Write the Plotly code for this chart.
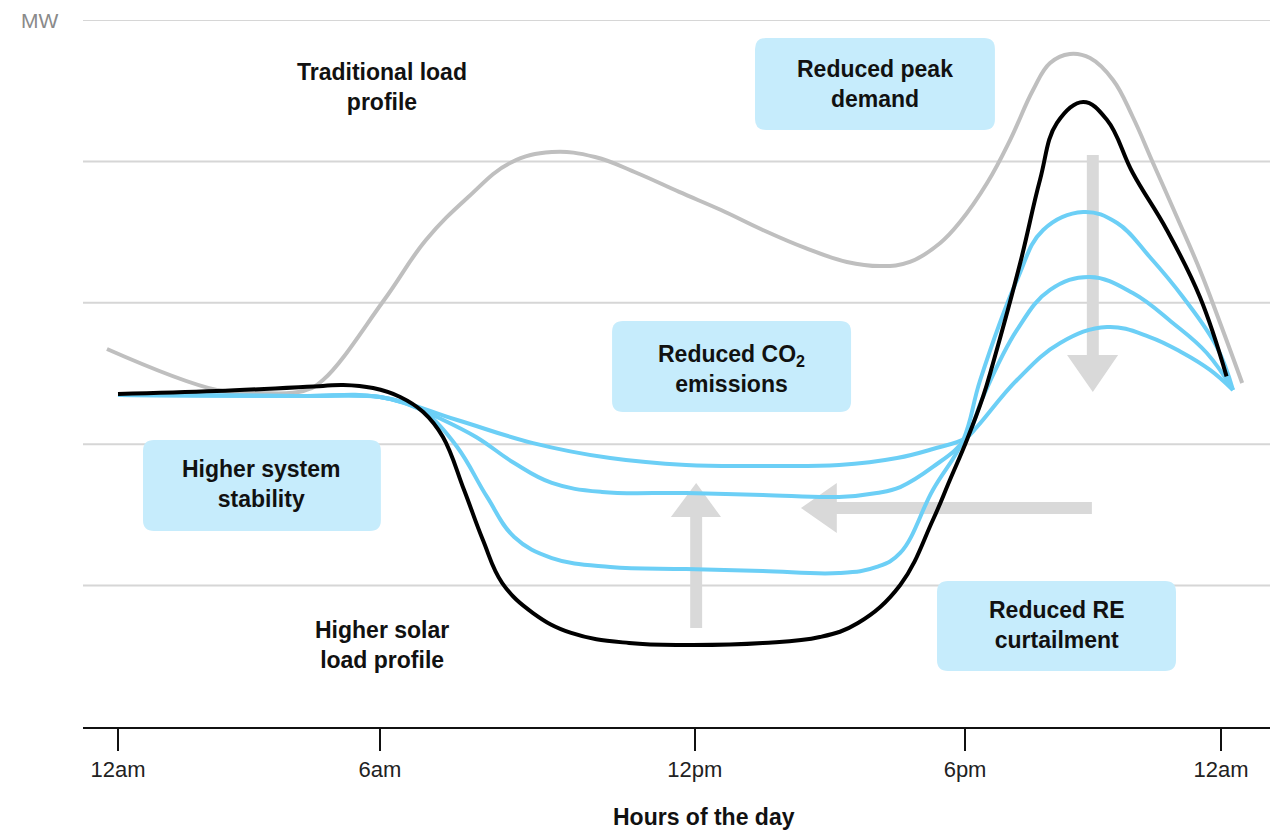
import plotly.graph_objects as go

# ---------------- data (hour position on axis, MW in grid units) ----------------
trad_hours = [-0.24, 2.15, 3.09, 4.03, 4.46, 5.79, 6.70, 7.62, 8.53, 9.44, 10.38, 11.29,
              12.21, 13.12, 14.03, 14.95, 15.86, 16.60, 17.23, 17.89, 18.32, 18.91, 19.41,
              19.91, 20.28, 20.71, 21.15, 21.65, 22.08, 22.52, 23.04, 23.54, 23.98, 24.46]
trad_mw = [2.673, 2.383, 2.362, 2.376, 2.454, 3.020, 3.444, 3.748, 3.989, 4.066, 4.031, 3.918,
           3.784, 3.656, 3.515, 3.388, 3.289, 3.260, 3.289, 3.423, 3.571, 3.847, 4.151,
           4.505, 4.696, 4.760, 4.731, 4.576, 4.314, 3.989, 3.607, 3.232, 2.857, 2.433]

solar_hours = [0.0, 2.15, 4.46, 4.90, 5.55, 6.14, 6.64, 7.07, 7.53, 7.94, 8.36, 9.03, 9.86,
               11.12, 12.36, 14.03, 15.27, 16.10, 17.02, 17.73, 18.10, 18.47, 18.82, 19.04,
               19.63, 20.06, 20.43, 21.00, 21.52, 22.08, 22.82, 23.54, 24.12]
solar_mw = [2.355, 2.376, 2.412, 2.419, 2.397, 2.334, 2.228, 2.051, 1.676, 1.322, 1.018, 0.806,
            0.665, 0.594, 0.580, 0.594, 0.636, 0.735, 1.004, 1.464, 1.747, 2.030, 2.334, 2.574,
            3.281, 3.868, 4.272, 4.420, 4.293, 3.918, 3.515, 3.041, 2.480]

flex_a_hours = [0.0, 3.96, 5.70, 7.38, 9.03, 10.71, 12.36, 14.03, 15.69, 16.95, 17.73,
                18.45, 18.69, 19.56, 20.50, 21.52, 22.45, 23.17, 23.76, 24.26]
flex_a_mw = [2.348, 2.341, 2.334, 2.171, 2.008, 1.902, 1.853, 1.846, 1.853, 1.902, 1.966,
             2.044, 2.122, 2.454, 2.716, 2.829, 2.758, 2.645, 2.525, 2.383]

flex_b_hours = [0.0, 3.96, 5.70, 6.35, 6.94, 7.79, 8.62, 9.44, 10.53, 12.36, 14.03, 15.69,
                16.51, 17.02, 17.73, 18.45, 18.82, 19.56, 20.28, 21.15, 22.08, 22.95, 23.69, 24.26]
flex_b_mw = [2.348, 2.341, 2.334, 2.277, 2.192, 2.051, 1.867, 1.726, 1.662, 1.655, 1.641, 1.627,
             1.655, 1.697, 1.839, 2.044, 2.334, 2.808, 3.091, 3.182, 3.069, 2.857, 2.645, 2.383]

flex_c_hours = [0.0, 3.96, 5.70, 6.24, 6.70, 7.38, 8.03, 8.62, 9.44, 10.71, 12.36, 14.03,
                15.69, 16.51, 17.02, 17.73, 18.39, 18.76, 19.56, 20.13, 21.00, 21.74, 22.45,
                23.17, 23.91, 24.26]
flex_c_mw = [2.348, 2.341, 2.334, 2.291, 2.221, 1.980, 1.627, 1.344, 1.195, 1.132, 1.117, 1.103,
             1.089, 1.132, 1.231, 1.676, 2.030, 2.454, 3.161, 3.515, 3.642, 3.564, 3.324,
             3.041, 2.687, 2.383]

tick_positions = [0, 5.70, 12.55, 18.43, 24.0]
tick_labels = ["12am", "6am", "12pm", "6pm", "12am"]
grid_levels = [1, 2, 3, 4, 5]

FONT = "Liberation Sans, Arial, sans-serif"
BLUE = "#6CCFF6"
BOX = "#C6ECFC"
ARROW = "#D9D9D9"
SMOOTH = 1.15

PX_PER_H = 45.96
PX_PER_MW = 141.4

fig = go.Figure()

fig.add_trace(go.Scatter(x=trad_hours, y=trad_mw, mode="lines",
                         line=dict(color="#BFBFBF", width=4, shape="spline", smoothing=SMOOTH),
                         hoverinfo="skip", showlegend=False))
for xs, ys in [(flex_a_hours, flex_a_mw), (flex_b_hours, flex_b_mw), (flex_c_hours, flex_c_mw)]:
    fig.add_trace(go.Scatter(x=xs, y=ys, mode="lines",
                             line=dict(color=BLUE, width=4, shape="spline", smoothing=SMOOTH),
                             hoverinfo="skip", showlegend=False))
fig.add_trace(go.Scatter(x=solar_hours, y=solar_mw, mode="lines",
                         line=dict(color="black", width=4, shape="spline", smoothing=SMOOTH),
                         hoverinfo="skip", showlegend=False))


def rounded_box(x0, x1, y0, y1, r_px=11):
    rx = r_px / PX_PER_H
    ry = r_px / PX_PER_MW
    return (f"M {x0+rx},{y1} L {x1-rx},{y1} Q {x1},{y1} {x1},{y1-ry} "
            f"L {x1},{y0+ry} Q {x1},{y0} {x1-rx},{y0} L {x0+rx},{y0} "
            f"Q {x0},{y0} {x0},{y0+ry} L {x0},{y1-ry} Q {x0},{y1} {x0+rx},{y1} Z")


boxes = [
    (13.86, 19.08, 4.222, 4.873),   # Reduced peak demand
    (10.75, 15.95, 2.228, 2.871),   # Reduced CO2 emissions
    (0.544, 5.72, 1.386, 2.030),    # Higher system stability
    (17.82, 23.02, 0.396, 1.033),   # Reduced RE curtailment
]
shapes = []
for b in boxes:
    shapes.append(dict(type="path", path=rounded_box(*b), xref="x", yref="y",
                       fillcolor=BOX, line=dict(width=0), layer="below"))

for g in grid_levels:
    shapes.append(dict(type="line", xref="paper", yref="y", x0=0, x1=1, y0=g, y1=g,
                       line=dict(color="#D6D6D6", width=2), layer="below"))

arrows = [
    # down arrow
    "M 21.08,4.045 L 21.34,4.045 L 21.34,2.631 L 21.76,2.631 L 21.21,2.369 "
    "L 20.65,2.631 L 21.08,2.631 Z",
    # up arrow
    "M 12.45,0.700 L 12.71,0.700 L 12.71,1.485 L 13.12,1.485 L 12.58,1.726 "
    "L 12.03,1.485 L 12.45,1.485 Z",
    # left arrow
    "M 21.19,1.591 L 21.19,1.506 L 15.64,1.506 L 15.64,1.372 L 14.86,1.549 "
    "L 15.64,1.726 L 15.64,1.591 Z",
]
for p in arrows:
    shapes.append(dict(type="path", path=p, xref="x", yref="y",
                       fillcolor=ARROW, line=dict(width=0), layer="below"))

labels = [
    (5.74, 4.526, "<b>Traditional load<br>profile</b>"),
    (16.47, 4.547, "<b>Reduced peak<br>demand</b>"),
    (13.34, 2.532, "<b>Reduced CO<sub>2</sub><br>emissions</b>"),
    (3.13, 1.719, "<b>Higher system<br>stability</b>"),
    (5.74, 0.580, "<b>Higher solar<br>load profile</b>"),
    (20.41, 0.721, "<b>Reduced RE<br>curtailment</b>"),
]
annotations = []
for x, y, t in labels:
    annotations.append(dict(x=x, y=y, xref="x", yref="y", text=t, showarrow=False,
                            font=dict(family=FONT, size=23, color="#111111"),
                            align="center", xanchor="center", yanchor="middle"))

# page body has an 8px margin: figure origin sits at (8, 8) on screen
W, H = 1273, 824
ML, MR, MT, MB = 75, 11, 12, 105
plot_w = W - ML - MR
plot_h = H - MT - MB
annotations.append(dict(x=(704 - 8 - ML) / plot_w, y=(727 - 817) / plot_h,
                        xref="paper", yref="paper",
                        text="<b>Hours of the day</b>", showarrow=False,
                        font=dict(family=FONT, size=23, color="#111111"),
                        xanchor="center", yanchor="middle"))
annotations.append(dict(x=(39 - 8 - ML) / plot_w, y=1.0, xref="paper", yref="paper",
                        text="MW", showarrow=False,
                        font=dict(family=FONT, size=21, color="#8A8A8A"),
                        xanchor="center", yanchor="middle"))

fig.update_layout(
    width=W, height=H,
    margin=dict(l=ML, r=MR, t=MT, b=MB),
    paper_bgcolor="white", plot_bgcolor="white",
    shapes=shapes, annotations=annotations,
    showlegend=False,
    xaxis=dict(range=[-(118 - 83) / PX_PER_H, (1270 - 118) / PX_PER_H],
               tickvals=tick_positions, ticktext=tick_labels,
               showgrid=False, zeroline=False,
               showline=True, linecolor="#111111", linewidth=2,
               ticks="outside", ticklen=22, tickwidth=2, tickcolor="#111111",
               tickfont=dict(family=FONT, size=22, color="#222222"),
               fixedrange=True),
    yaxis=dict(range=[0, 5], showgrid=False,
               zeroline=False, showline=False, showticklabels=False,
               fixedrange=True),
)

fig.write_html("out.html")
